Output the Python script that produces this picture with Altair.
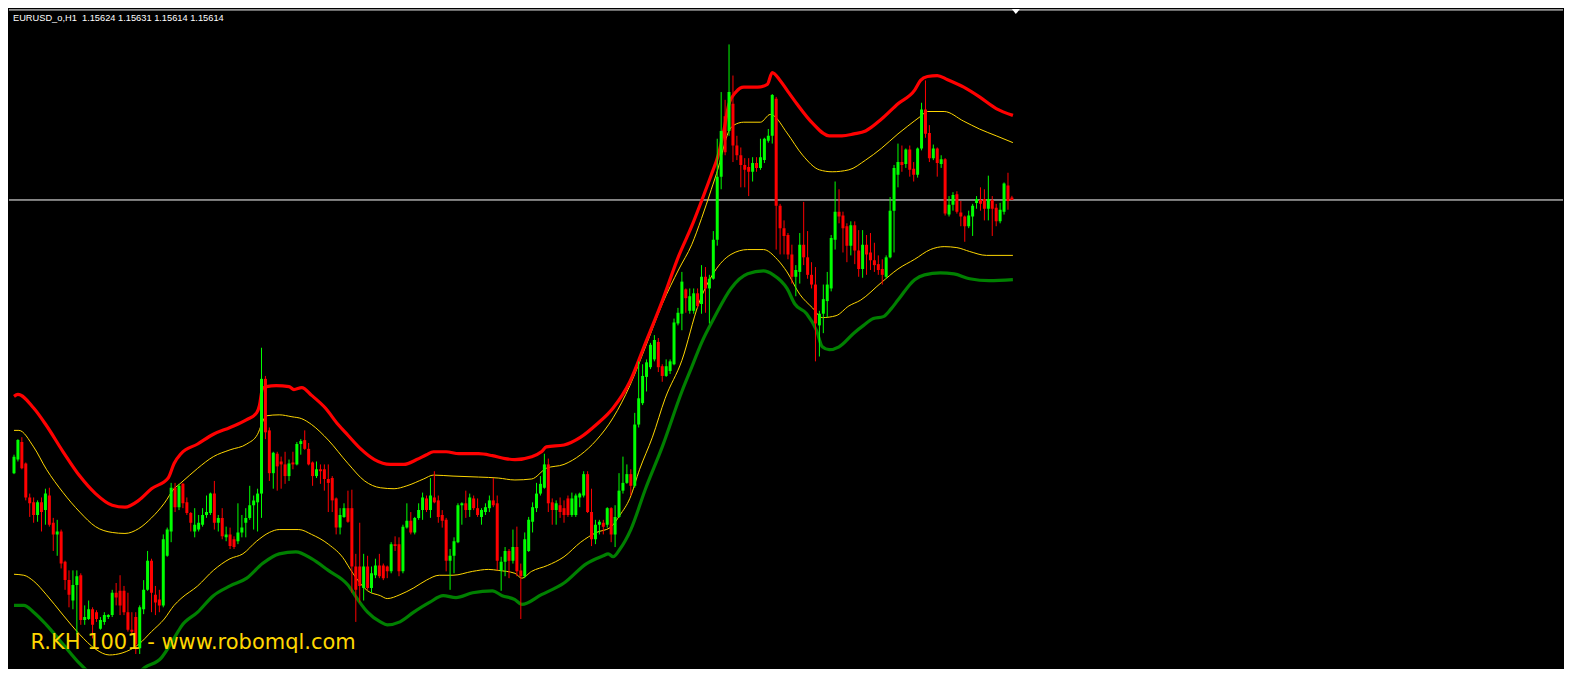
import altair as alt
import pandas as pd

symbol = "EURUSD_o,H1"
watermark = "R.KH 1001 - www.robomql.com"

# H1 candles, prices in points (1 point = 0.00001)
open_pts = [
    114490, 114546, 114618, 114530, 114390, 114370, 114318, 114370, 114338, 114398,
    114286, 114238, 114250, 114126, 114050, 113966, 114030, 114070, 113886, 113890,
    113930, 113918, 113850, 113878, 113898, 113906, 113998, 114006, 114006, 113918,
    113846, 113898, 113770, 113930, 114010, 114130, 113990, 113970, 113946, 114150,
    114250, 114430, 114350, 114446, 114370, 114326, 114250, 114258, 114278, 114318,
    114326, 114406, 114286, 114306, 114226, 114238, 114218, 114210, 114246, 114286,
    114306, 114358, 114370, 114406, 114878, 114666, 114490, 114570, 114538, 114526,
    114478, 114534, 114526, 114610, 114626, 114590, 114534, 114478, 114506, 114506,
    114466, 114470, 114386, 114266, 114310, 114346, 114346, 114106, 114106, 114018,
    114106, 114018, 114070, 114110, 114110, 114106, 114086, 114198, 114198, 114086,
    114266, 114294, 114246, 114306, 114338, 114386, 114338, 114390, 114378, 114318,
    114298, 114130, 114150, 114206, 114358, 114366, 114338, 114386, 114346, 114310,
    114330, 114346, 114378, 114366, 114090, 114126, 114170, 114130, 114186, 114090,
    114066, 114170, 114290, 114346, 114406, 114430, 114526, 114370, 114338, 114358,
    114346, 114386, 114318, 114318, 114390, 114398, 114486, 114330, 114218, 114278,
    114286, 114278, 114346, 114238, 114310, 114418, 114450, 114486, 114438, 114690,
    114778, 114886, 114926, 114958, 115030, 114930, 114890, 114910, 114938, 115106,
    115146, 115246, 115158, 115158, 115230, 115186, 115298, 115250, 115290, 115450,
    115710, 115958, 115898, 116010, 115838, 115798, 115758, 115750, 115730, 115766,
    115746, 115778, 115858, 115878, 116030, 115590, 115498, 115470, 115390, 115298,
    115318, 115430, 115378, 115306, 115266, 115098, 115146, 115198, 115250, 115450,
    115566, 115550, 115506, 115426, 115510, 115406, 115330, 115430, 115398, 115366,
    115350, 115330, 115298, 115378, 115570, 115718, 115770, 115762, 115822, 115742,
    115718, 115826, 115986, 115890, 115786, 115826, 115762, 115782, 115554, 115594,
    115638, 115562, 115546, 115506, 115546, 115602, 115614, 115618, 115578, 115614,
    115582, 115526, 115566, 115674, 115624,
]
high_pts = [
    114566, 114630, 114638, 114534, 114406, 114390, 114378, 114390, 114426, 114430,
    114306, 114298, 114258, 114130, 114090, 114090, 114090, 114078, 113946, 113966,
    113938, 113926, 113898, 113918, 113910, 114010, 114038, 114070, 114026, 113998,
    113918, 113918, 113946, 114050, 114170, 114138, 114026, 114010, 114238, 114266,
    114450, 114450, 114446, 114450, 114390, 114330, 114346, 114318, 114346, 114398,
    114410, 114458, 114318, 114346, 114270, 114266, 114230, 114366, 114318, 114346,
    114438, 114398, 114426, 115006, 114890, 114678, 114578, 114578, 114558, 114578,
    114546, 114578, 114618, 114630, 114666, 114614, 114538, 114538, 114526, 114526,
    114526, 114478, 114390, 114346, 114366, 114418, 114422, 114158, 114286, 114158,
    114150, 114106, 114138, 114158, 114118, 114110, 114206, 114230, 114226, 114278,
    114366, 114330, 114310, 114366, 114410, 114398, 114470, 114498, 114398, 114338,
    114306, 114178, 114226, 114366, 114370, 114418, 114406, 114398, 114386, 114346,
    114366, 114398, 114470, 114398, 114146, 114186, 114178, 114258, 114270, 114118,
    114246, 114310, 114370, 114450, 114478, 114570, 114550, 114386, 114378, 114390,
    114378, 114398, 114410, 114406, 114410, 114498, 114498, 114426, 114298, 114298,
    114298, 114350, 114350, 114358, 114490, 114558, 114526, 114506, 114738, 114950,
    114938, 114958, 115026, 115058, 115046, 114938, 114958, 114958, 115126, 115170,
    115318, 115250, 115250, 115250, 115250, 115346, 115338, 115306, 115486, 115866,
    116058, 116026, 116254, 116126, 115878, 115830, 115786, 115786, 115790, 115790,
    115866, 115870, 115906, 116050, 116038, 115598, 115530, 115478, 115430, 115346,
    115478, 115606, 115486, 115358, 115338, 115158, 115266, 115318, 115470, 115690,
    115658, 115566, 115518, 115526, 115526, 115490, 115490, 115470, 115478, 115438,
    115386, 115370, 115386, 115626, 115758, 115846, 115838, 115826, 115838, 115770,
    115830, 116014, 116106, 115922, 115842, 115830, 115798, 115786, 115630, 115646,
    115650, 115610, 115550, 115570, 115598, 115630, 115666, 115658, 115714, 115630,
    115598, 115602, 115686, 115726, 115631,
]
low_pts = [
    114486, 114538, 114506, 114378, 114310, 114286, 114290, 114250, 114278, 114270,
    114170, 114150, 114098, 114010, 113938, 113930, 113826, 113866, 113866, 113886,
    113810, 113878, 113846, 113866, 113890, 113898, 113946, 113906, 113906, 113838,
    113826, 113746, 113746, 113910, 114006, 113918, 113906, 113918, 113938, 114146,
    114206, 114330, 114338, 114346, 114318, 114250, 114226, 114250, 114270, 114306,
    114318, 114258, 114250, 114218, 114210, 114178, 114178, 114198, 114226, 114226,
    114298, 114258, 114250, 114306, 114630, 114458, 114426, 114418, 114426, 114446,
    114458, 114506, 114522, 114566, 114586, 114522, 114438, 114470, 114446, 114418,
    114330, 114330, 114238, 114238, 114306, 114286, 113998, 113878, 113958, 113966,
    114010, 113998, 114058, 114058, 114050, 114058, 114078, 114170, 114066, 114078,
    114262, 114238, 114238, 114298, 114298, 114330, 114306, 114366, 114286, 114266,
    114086, 114010, 114078, 114202, 114278, 114306, 114310, 114338, 114310, 114278,
    114318, 114330, 114350, 114090, 114006, 114066, 114058, 114118, 114066, 113890,
    114058, 114166, 114246, 114330, 114398, 114426, 114330, 114278, 114278, 114306,
    114286, 114310, 114310, 114310, 114350, 114390, 114326, 114190, 114198, 114238,
    114238, 114266, 114206, 114186, 114306, 114406, 114446, 114398, 114430, 114678,
    114770, 114826, 114918, 114950, 114906, 114866, 114886, 114898, 114934, 115098,
    115078, 115150, 115146, 115146, 115170, 115146, 115150, 115106, 115286, 115426,
    115658, 115798, 115878, 115770, 115778, 115666, 115666, 115630, 115690, 115730,
    115738, 115766, 115850, 115846, 115410, 115390, 115390, 115370, 115270, 115218,
    115270, 115346, 115290, 115250, 114950, 114970, 115066, 115130, 115238, 115410,
    115518, 115398, 115358, 115386, 115350, 115298, 115294, 115306, 115326, 115318,
    115306, 115266, 115290, 115374, 115398, 115666, 115730, 115746, 115710, 115690,
    115706, 115818, 115870, 115770, 115778, 115710, 115746, 115550, 115546, 115570,
    115558, 115506, 115442, 115498, 115466, 115578, 115570, 115530, 115530, 115466,
    115506, 115518, 115554, 115574, 115614,
]
close_pts = [
    114558, 114626, 114510, 114390, 114366, 114318, 114370, 114330, 114406, 114278,
    114238, 114250, 114118, 114050, 113990, 114030, 114066, 113886, 113898, 113930,
    113866, 113890, 113886, 113906, 113906, 113998, 113978, 113946, 113918, 113846,
    113838, 113786, 113938, 114010, 114130, 113998, 113958, 113946, 114218, 114258,
    114430, 114350, 114438, 114366, 114326, 114286, 114278, 114286, 114318, 114330,
    114406, 114286, 114306, 114230, 114238, 114190, 114186, 114246, 114266, 114306,
    114358, 114378, 114406, 114878, 114658, 114490, 114574, 114518, 114526, 114478,
    114530, 114526, 114610, 114622, 114590, 114526, 114478, 114506, 114498, 114466,
    114450, 114378, 114266, 114318, 114346, 114290, 114106, 114010, 114026, 114106,
    114018, 114078, 114110, 114066, 114058, 114086, 114198, 114190, 114086, 114270,
    114294, 114246, 114306, 114338, 114390, 114338, 114398, 114370, 114310, 114294,
    114130, 114150, 114210, 114358, 114366, 114338, 114390, 114346, 114318, 114338,
    114350, 114378, 114358, 114130, 114126, 114170, 114130, 114186, 114086, 114066,
    114218, 114298, 114350, 114406, 114446, 114526, 114366, 114338, 114366, 114330,
    114318, 114318, 114386, 114398, 114406, 114486, 114330, 114218, 114278, 114290,
    114270, 114346, 114238, 114310, 114418, 114450, 114486, 114438, 114690, 114798,
    114890, 114946, 115018, 115038, 114926, 114890, 114930, 114950, 115110, 115150,
    115278, 115210, 115218, 115230, 115178, 115298, 115250, 115290, 115450, 115710,
    115898, 115810, 116058, 115838, 115798, 115758, 115738, 115730, 115766, 115746,
    115790, 115866, 115878, 116046, 115590, 115498, 115466, 115390, 115298, 115326,
    115430, 115378, 115306, 115266, 115106, 115146, 115206, 115266, 115458, 115566,
    115546, 115498, 115426, 115510, 115406, 115330, 115430, 115390, 115366, 115346,
    115326, 115306, 115378, 115570, 115746, 115770, 115758, 115822, 115738, 115718,
    115826, 115986, 115886, 115786, 115826, 115766, 115782, 115558, 115594, 115634,
    115566, 115546, 115506, 115550, 115590, 115618, 115598, 115578, 115618, 115578,
    115526, 115574, 115682, 115610, 115614,
]

# Envelope bands: knots (bar index, price in points)
red_bar = [0, 1, 5, 8.25, 12.5, 16.75, 20.75, 25, 28.25, 31.75, 35, 39.25, 40.75, 42.5,
           46.75, 50.75, 55, 59.25, 61.75, 62.5, 63.25, 64.25, 66.75, 70, 71.25, 73.25,
           75.75, 79.25, 82.5, 85, 88.25, 91.75, 95.75, 99.25, 102.5, 105, 106.75, 110,
           113.25, 118.25, 121.75, 125, 127.5, 131.75, 134.25, 135.5, 140, 144.25, 148.25,
           152.5, 156.75, 160.75, 165, 169.25, 172.5, 175, 177.5, 179.25, 180.75, 182,
           183.75, 185.75, 189.25, 191.75, 193, 195, 196.75, 199.25, 203.25, 207.5,
           210.75, 213.75, 216.75, 220.75, 225, 229.25, 230.75, 232.5, 235, 237.5,
           241.75, 245.75, 250, 254.25]
red_val = [114806, 114814, 114758, 114686, 114578, 114478, 114406, 114358, 114350, 114378,
           114426, 114470, 114530, 114570, 114610, 114650, 114678, 114710, 114738, 114770,
           114838, 114846, 114850, 114846, 114834, 114842, 114810, 114758, 114690, 114646,
           114590, 114546, 114526, 114526, 114546, 114566, 114578, 114578, 114570, 114570,
           114562, 114550, 114546, 114558, 114578, 114598, 114606, 114638, 114690, 114758,
           114866, 115026, 115198, 115386, 115506, 115610, 115718, 115798, 115906, 116010,
           116058, 116078, 116078, 116090, 116138, 116106, 116066, 116010, 115930, 115878,
           115878, 115886, 115898, 115946, 116010, 116066, 116106, 116122, 116126, 116110,
           116078, 116038, 115990, 115962]

up_bar = [0, 1.25, 5, 8.25, 12.5, 16.75, 20.75, 25, 28.25, 31.75, 35, 38.25, 40.75, 42.5,
          46.75, 50.75, 55, 59.25, 62, 63, 64.25, 67.5, 70.75, 73.25, 75.75, 80, 85, 89.25,
          93.25, 96.75, 100, 104.25, 106.75, 111.75, 118.25, 123.25, 127.5, 131.75, 135.5,
          140, 144.25, 148.25, 152.5, 156.75, 160.75, 165, 169.25, 172.5, 175, 177.5,
          179.25, 180.75, 181.75, 183.25, 185.75, 190, 192.5, 193.25, 196.75, 200.75, 205,
          208.25, 212.5, 216.75, 220.75, 225, 227.5, 230.75, 232.5, 236.75, 241.75, 245.75,
          250, 254.25]
up_val = [114666, 114666, 114598, 114506, 114410, 114330, 114270, 114246, 114242, 114262,
          114306, 114366, 114426, 114450, 114510, 114558, 114586, 114610, 114650, 114690,
          114726, 114730, 114722, 114714, 114690, 114626, 114530, 114458, 114430, 114426,
          114438, 114466, 114482, 114478, 114474, 114470, 114462, 114466, 114510, 114526,
          114566, 114626, 114718, 114850, 115010, 115186, 115330, 115430, 115538, 115658,
          115746, 115838, 115890, 115922, 115934, 115934, 115966, 115962, 115890, 115798,
          115738, 115730, 115738, 115778, 115826, 115886, 115918, 115958, 115978, 115978,
          115938, 115906, 115878, 115850]

lo_bar = [0, 2.5, 5, 8.25, 12.5, 16.75, 20.75, 24.25, 27.5, 31.75, 35, 38.25, 40.75, 42.5,
          46.75, 50.75, 55, 58.25, 61.75, 65, 67.5, 72.5, 75.75, 80, 84.25, 85, 87.5, 90,
          93.25, 95, 98.25, 101.75, 105, 108.25, 111.75, 116.75, 120.75, 123.25, 127.5,
          129.25, 131.75, 135.75, 140, 144.25, 148.25, 151.75, 154.25, 156.75, 159.25,
          162.5, 165.75, 170, 174.25, 178.25, 182.5, 186.75, 190.75, 194.25, 196.75, 200,
          203.25, 205.75, 209.25, 212.5, 215.5, 220.75, 225, 229.25, 233.25, 236.75, 240,
          243.25, 247.5, 254.25]
lo_val = [114074, 114070, 114046, 113990, 113906, 113826, 113766, 113742, 113750, 113786,
          113838, 113890, 113946, 113974, 114026, 114090, 114138, 114158, 114210, 114246,
          114258, 114258, 114238, 114198, 114130, 114110, 114050, 114006, 113986, 113974,
          113990, 114018, 114050, 114070, 114070, 114086, 114094, 114090, 114078, 114058,
          114086, 114110, 114146, 114206, 114246, 114266, 114318, 114386, 114506, 114638,
          114798, 114954, 115186, 115318, 115390, 115410, 115410, 115370, 115318, 115226,
          115170, 115130, 115138, 115178, 115202, 115274, 115330, 115370, 115410, 115422,
          115418, 115402, 115386, 115386]

dn_bar = [0, 2.5, 5, 8.25, 12.5, 16.75, 20, 25, 30, 33.25, 37.5, 40, 41.75, 42.5, 46.75,
          50.75, 55, 59.25, 63.25, 67.5, 71.75, 75.75, 80, 85, 87.5, 90, 93.25, 95, 98.25,
          101.75, 105.75, 109.25, 112.5, 116.75, 121.75, 124.25, 127.5, 129.25, 134.25, 140,
          145.75, 150, 151.25, 152.5, 154.25, 157, 160.75, 165, 170, 172.5, 175, 178.25,
          182.5, 186.75, 190.75, 193.25, 196.75, 198.75, 201.75, 204.25, 205.75, 207.5, 210,
          213.75, 216.25, 218.75, 221.25, 223.25, 225, 229.25, 231.75, 235.75, 239.25,
          243.25, 248.25, 254.25]
dn_val = [113946, 113946, 113918, 113866, 113786, 113706, 113658, 113618, 113646, 113690,
          113730, 113790, 113838, 113858, 113918, 113986, 114026, 114058, 114118, 114158,
          114166, 114138, 114090, 114030, 113970, 113918, 113878, 113866, 113878, 113918,
          113958, 113986, 113978, 113998, 114006, 113986, 113970, 113950, 113990, 114038,
          114118, 114150, 114158, 114146, 114178, 114258, 114426, 114598, 114826, 114926,
          115026, 115130, 115250, 115310, 115322, 115306, 115250, 115186, 115146, 115078,
          115010, 114998, 115010, 115066, 115098, 115126, 115134, 115166, 115202, 115286,
          115306, 115314, 115310, 115290, 115282, 115286]

PT = 1e-5
W, H = 1556, 660
REF_BARS = 393          # 1572 px / 4 px per bar
Y_LO, Y_HI = 1.13686, 1.16398

n = len(open_pts)
df = pd.DataFrame({
    "bar": list(range(n)),
    "open": [v * PT for v in open_pts],
    "high": [v * PT for v in high_pts],
    "low": [v * PT for v in low_pts],
    "close": [v * PT for v in close_pts],
})
df["dir"] = ["bull" if c >= o else "bear" for o, c in zip(df["open"], df["close"])]

xs = alt.Scale(domain=[0, REF_BARS], nice=False, zero=False)
ys = alt.Scale(domain=[Y_LO, Y_HI], nice=False, zero=False)
col = alt.Color("dir:N", scale=alt.Scale(domain=["bull", "bear"], range=["#00FF00", "#FF0000"]), legend=None)

base = alt.Chart(df)
wicks = base.mark_rule(strokeWidth=1, clip=True).encode(
    x=alt.X("bar:Q", scale=xs, axis=None),
    y=alt.Y("low:Q", scale=ys, axis=None),
    y2="high:Q",
    color=col,
)
bodies = base.mark_bar(size=3, clip=True).encode(
    x=alt.X("bar:Q", scale=xs, axis=None),
    y=alt.Y("open:Q", scale=ys, axis=None),
    y2="close:Q",
    color=col,
)


def band(bars, vals, color, width):
    d = pd.DataFrame({"bar": bars, "price": [v * PT for v in vals]})
    return alt.Chart(d).mark_line(color=color, strokeWidth=width, clip=True, interpolate="monotone").encode(
        x=alt.X("bar:Q", scale=xs, axis=None),
        y=alt.Y("price:Q", scale=ys, axis=None),
    )


red_line = band(red_bar, red_val, "#FF0000", 3.2)
up_line = band(up_bar, up_val, "#FFD700", 1)
lo_line = band(lo_bar, lo_val, "#FFD700", 1)
dn_line = band(dn_bar, dn_val, "#008000", 3.2)

bid = close_pts[-1] * PT
bid_line = alt.Chart(pd.DataFrame({"price": [bid]})).mark_rule(color="#FFFFFF", strokeWidth=1).encode(
    y=alt.Y("price:Q", scale=ys, axis=None)
)
top_border = alt.Chart(pd.DataFrame({"k": [0]})).mark_rule(color="#FFFFFF", strokeWidth=1).encode(
    y=alt.value(0.5)
)
shift_marker = alt.Chart(pd.DataFrame({"bar": [n]})).mark_point(
    shape="M-1,-1L1,-1L0,0.3Z", filled=True, color="#FFFFFF", size=64, opacity=1
).encode(
    x=alt.X("bar:Q", scale=xs, axis=None),
    y=alt.value(3.5),
)

title_txt = "{}\u00a0 {:.5f} {:.5f} {:.5f} {:.5f}".format(
    symbol, open_pts[-1] * PT, high_pts[-1] * PT, low_pts[-1] * PT, close_pts[-1] * PT
)
title = alt.Chart(pd.DataFrame({"t": [title_txt]})).mark_text(
    align="left", baseline="alphabetic", font="Liberation Sans", fontSize=9.3, color="#FFFFFF"
).encode(x=alt.value(4), y=alt.value(12), text="t:N")

mark_wm = alt.Chart(pd.DataFrame({"t": [watermark]})).mark_text(
    align="left", baseline="alphabetic", font="DejaVu Sans", fontSize=21, color="#FFD700"
).encode(x=alt.value(21.5), y=alt.value(640.5), text="t:N")

chart = alt.layer(
    bid_line, top_border, up_line, lo_line, red_line, dn_line, wicks, bodies,
    shift_marker, title, mark_wm,
).properties(
    width=W, height=H, background="#000000", padding=0
).configure_view(strokeWidth=0)

chart.save("out.html", embed_options={"renderer": "svg", "actions": False})
